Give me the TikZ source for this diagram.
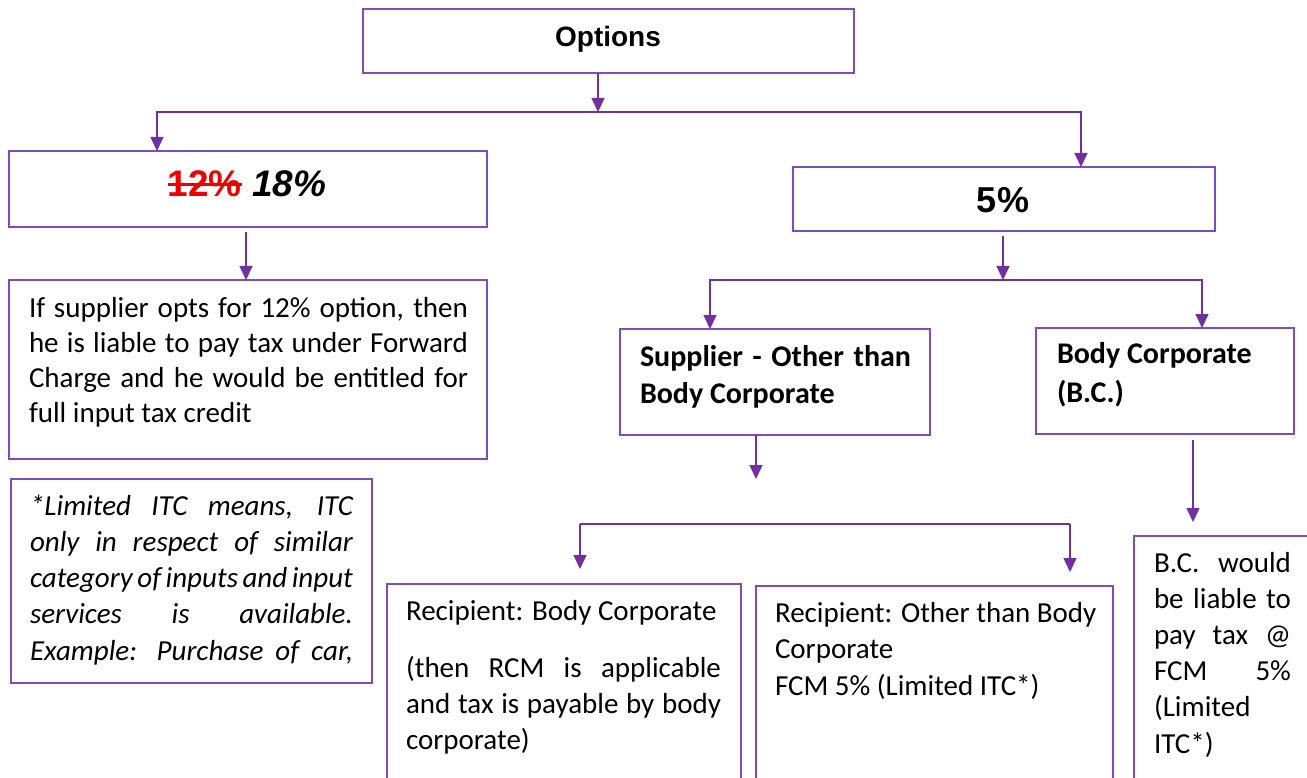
\documentclass[tikz,border=0pt]{standalone}
\usepackage{fontspec}
\setmainfont{Carlito}
\newfontfamily\arialf{Liberation Sans}
\usetikzlibrary{arrows.meta,calc}
\definecolor{boxc}{RGB}{128,76,184}
\definecolor{arrc}{RGB}{112,48,160}
\definecolor{strikec}{RGB}{236,0,0}
\newcommand{\jl}[2]{\makebox[#1][s]{#2}}
\newsavebox{\stbox}
\newcommand{\strk}[1]{\sbox{\stbox}{#1}\rlap{\usebox{\stbox}}\rule[0.3em]{\wd\stbox}{2.6pt}}
\begin{document}
\begin{tikzpicture}[x=1pt,y=-1pt,
  box/.style={draw=boxc, line width=1.5pt, rectangle, anchor=north west, inner sep=0pt, outer sep=0pt},
  arr/.style={draw=arrc, line width=1.5pt, -{Triangle[length=14pt,width=13pt]}},
  ln/.style={draw=arrc, line width=1.5pt},
  txt/.style={anchor=base west, inner sep=0pt, outer sep=0pt, align=left},
  body/.style={font=\fontsize{29}{36}\selectfont},
  head/.style={font=\fontsize{30}{37}\selectfont\bfseries},
  ]
\clip (0,0) rectangle (1307,778);
\fill[white] (0,0) rectangle (1307,778);

% boxes
\node[box, minimum width=491pt, minimum height=64pt] (opt) at (363,9) {};
\node[box, minimum width=478pt, minimum height=76pt] (b18) at (9,151) {};
\node[box, minimum width=478pt, minimum height=179pt] (t1) at (9,280) {};
\node[box, minimum width=361pt, minimum height=204pt] (lim) at (11,479) {};
\node[box, minimum width=422pt, minimum height=64pt] (b5) at (793,167) {};
\node[box, minimum width=310pt, minimum height=106pt] (sup) at (620,329) {};
\node[box, minimum width=258pt, minimum height=106pt] (bc) at (1036,328) {};
\node[box, minimum width=354pt, minimum height=260pt] (rbc) at (387,584) {};
\node[box, minimum width=357pt, minimum height=260pt] (rot) at (756,586) {};
\node[box, minimum width=260pt, minimum height=300pt] (bcl) at (1134,536) {};

% texts
\node[anchor=base, inner sep=0pt, font=\arialf\bfseries\fontsize{28}{34}\selectfont] (optt) at (608,47) {Options};
\node[anchor=base, inner sep=0pt, font=\arialf\bfseries\fontsize{37}{44}\selectfont] (b18t) at (247,197)
  {{\color{strikec}\strk{12\%}} \textit{18\%}};
\node[anchor=base, inner sep=0pt, font=\arialf\bfseries\fontsize{36}{44}\selectfont] (b5t) at (1003,213) {5\%};

\node[txt, head] (supt) at (640,366) {\parbox[t]{271pt}{\jl{271pt}{Supplier - Other than}\par Body Corporate}};
\node[txt, font=\fontsize{30}{39}\selectfont\bfseries] (bct) at (1057,363) {\parbox[t]{220pt}{Body Corporate\par (B.C.)}};

\node[txt, font=\fontsize{29}{35.3}\selectfont] (t1t) at (29,317) {\parbox[t]{439pt}{%
  \jl{439pt}{If supplier opts for 12\% option, then}\par
  \jl{439pt}{he is liable to pay tax under Forward}\par
  \jl{439pt}{Charge and he would be entitled for}\par
  full input tax credit}};

\node[txt, font=\fontsize{29}{36.25}\selectfont\itshape] (limt) at (30,515) {\parbox[t]{323pt}{%
  \jl{323pt}{*Limited ITC means, ITC}\par
  \jl{323pt}{only in respect of similar}\par
  \jl{323pt}{category of inputs and input}\par
  \jl{323pt}{services is available.}\par
  \jl{323pt}{Example: Purchase of car,}}};

\node[txt, body] (rbct) at (406,620) {\parbox[t]{315pt}{%
  Recipient: Body Corporate\par\vspace{21pt}
  \jl{315pt}{(then RCM is applicable}\par
  \jl{315pt}{and tax is payable by body}\par
  corporate)}};

\node[txt, font=\fontsize{29}{36.5}\selectfont] (rott) at (775,622) {\parbox[t]{330pt}{%
  Recipient: Other than Body\par
  Corporate\par
  FCM 5\% (Limited ITC*)}};

\node[txt, font=\fontsize{29}{36.2}\selectfont] (bclt) at (1154,572) {\parbox[t]{137pt}{%
  \jl{137pt}{B.C. would}\par
  \jl{137pt}{be liable to}\par
  \jl{137pt}{pay tax @}\par
  \jl{137pt}{FCM 5\%}\par
  (Limited\par
  ITC*)}};

% connectors
\coordinate (j1) at (598,112);
\draw[arr] (opt.south -| j1) -- (j1);
\draw[arr] (j1) -| ([xshift=148pt]b18.north west);
\draw[arr] (j1) -| ([xshift=288pt]b5.north west);
\draw[arr] ($([xshift=237pt]b18.south west)+(0,5)$) -- ([xshift=237pt]t1.north west);

\coordinate (j2) at (1003,280);
\draw[arr] ($(b5.south -| j2)+(0,5)$) -- (j2);
\draw[arr] (j2) -| ([xshift=90pt]sup.north west);
\draw[arr] (j2) -| ([xshift=166pt]bc.north west);

\coordinate (f1) at (756,479);
\draw[arr] (sup.south -| f1) -- (f1);

\coordinate (k1) at (580,524);
\coordinate (k2) at (1070,524);
\draw[ln] (k1) -- (k2);
\draw[arr] (k1) -- ($(rbc.north -| k1)+(0,-15)$);
\draw[arr] (k2) -- ($(rot.north -| k2)+(0,-14)$);

\coordinate (k3) at (1193,522);
\draw[arr] ($(bc.south -| k3)+(0,6)$) -- (k3);
\end{tikzpicture}
\end{document}
